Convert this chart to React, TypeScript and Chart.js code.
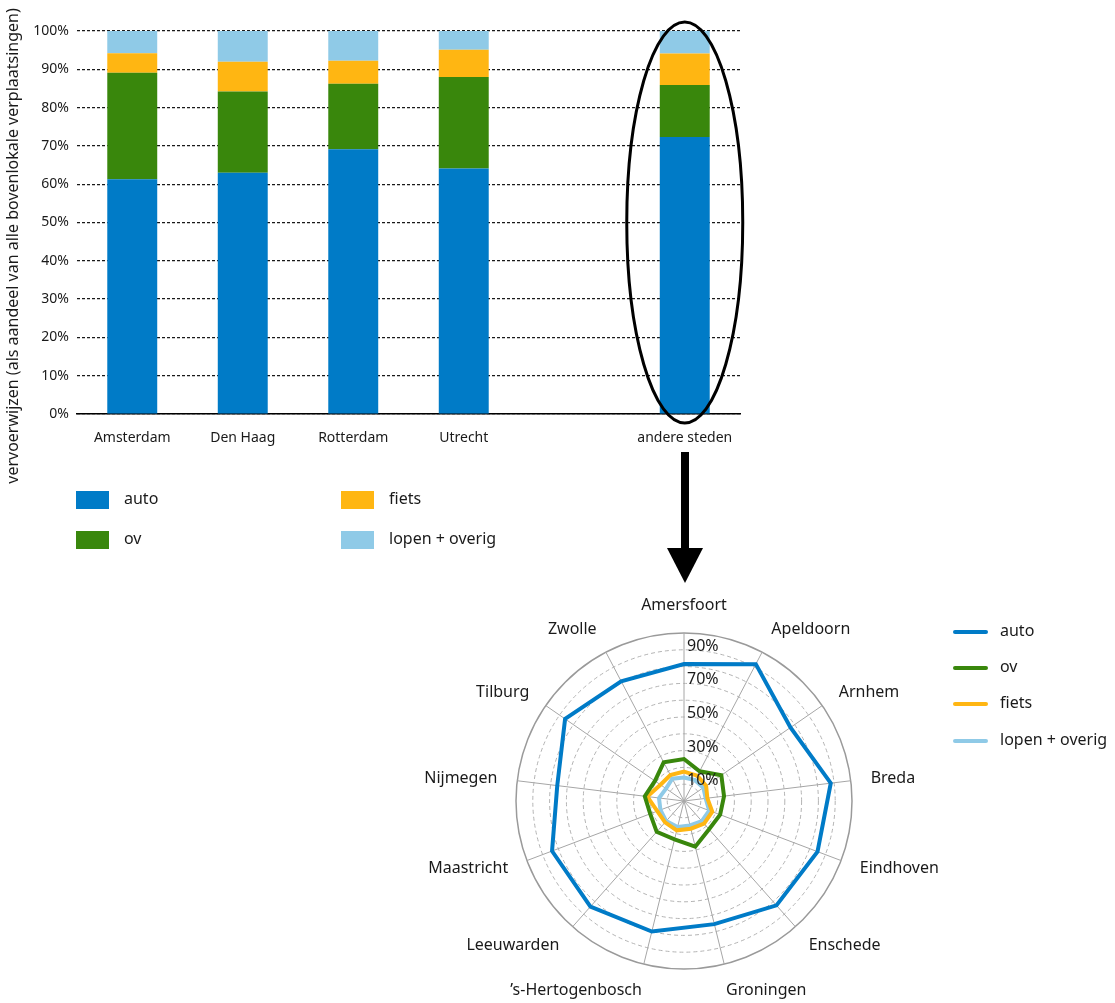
import React, { useEffect, useRef } from 'react';
import { Chart, registerables } from 'chart.js';

Chart.register(...registerables);

const FONT = "'Noto Sans', 'DejaVu Sans', sans-serif";
const TEXT = '#1a1a1a';

// ---- bar chart data ----
const barCategories = ['Amsterdam', 'Den Haag', 'Rotterdam', 'Utrecht', '', 'andere steden'];
const barAuto = [61.3, 63.0, 69.1, 64.1, null, 72.3];
const barOv = [27.8, 21.2, 17.1, 23.9, null, 13.6];
const barFiets = [5.1, 7.8, 6.0, 7.1, null, 8.2];
const barLopen = [5.8, 8.0, 7.8, 4.9, null, 5.9];
const barYTitle = 'vervoerwijzen (als aandeel van alle bovenlokale verplaatsingen)';
const highlightIndex = 5;

// ---- series ----
const seriesNames = ['auto', 'ov', 'fiets', 'lopen + overig'];
const seriesColors = ['#007BC7', '#39870C', '#FFB612', '#8FCAE7'];

// ---- radar data ----
const radarCities = [
  'Amersfoort', 'Apeldoorn', 'Arnhem', 'Breda', 'Eindhoven', 'Enschede', 'Groningen',
  '\u2019s-Hertogenbosch', 'Leeuwarden', 'Maastricht', 'Nijmegen', 'Tilburg', 'Zwolle',
];
const radarAuto = [81.5, 92, 77, 88, 85, 83, 75.5, 80, 84, 84, 76, 86, 80.5];
const radarOv = [25, 20, 27, 24, 23, 22.5, 28, 23.5, 24.5, 21.5, 23.5, 21, 26];
const radarFiets = [17.5, 17, 16, 14, 18, 18, 17, 18, 17, 17, 22, 17, 17.5];
const radarLopen = [14, 14, 14, 13, 16, 16, 15, 16, 16, 15, 15, 13, 15];
const radarTickValues = [10, 30, 50, 70, 90];
const radarTickLabels = ['10%', '30%', '50%', '70%', '90%'];

const barExtras = {
  id: 'barExtras',
  afterDraw(chart: any) {
    const ctx = chart.ctx;
    const xs = chart.scales.x;
    const ys = chart.scales.y;
    // y axis title
    ctx.save();
    ctx.translate(13, 246);
    ctx.rotate(-Math.PI / 2);
    ctx.font = `16px ${FONT}`;
    ctx.fillStyle = TEXT;
    ctx.textAlign = 'center';
    ctx.textBaseline = 'middle';
    ctx.fillText(barYTitle, 0, 0);
    ctx.restore();
    // ellipse around highlighted bar
    const cx = xs.getPixelForValue(highlightIndex);
    const yTop = ys.getPixelForValue(100);
    const yBot = ys.getPixelForValue(0);
    const cy = (yTop + yBot) / 2;
    const ry = (yBot - yTop) / 2 + 9;
    ctx.save();
    ctx.beginPath();
    ctx.ellipse(cx, cy, 58, ry, 0, 0, Math.PI * 2);
    ctx.lineWidth = 3;
    ctx.strokeStyle = '#000';
    ctx.stroke();
    ctx.restore();
  },
};

const radarExtras = {
  id: 'radarExtras',
  afterDraw(chart: any) {
    const ctx = chart.ctx;
    const s = chart.scales.r;
    ctx.save();
    ctx.fillStyle = TEXT;
    // tick labels
    ctx.font = `16px ${FONT}`;
    ctx.textAlign = 'left';
    ctx.textBaseline = 'alphabetic';
    radarTickValues.forEach((v, i) => {
      const d = s.getDistanceFromCenterForValue(v);
      ctx.fillText(radarTickLabels[i], s.xCenter + 3, s.yCenter - d + 1);
    });
    // point labels
    ctx.textBaseline = 'middle';
    const labels = chart.data.labels as string[];
    labels.forEach((lab, i) => {
      const ang = s.getIndexAngle(i);
      const deg = Math.round((ang * 180) / Math.PI) % 360;
      const c = Math.cos(ang);
      const sn = Math.abs(Math.sin(ang));
      const extraX = sn < 0.3 ? -12 : 0;
      const px = s.getPointPosition(i, s.drawingArea + 20 + extraX).x;
      const py = s.getPointPosition(i, s.drawingArea + 20 + 8 * c * c).y;
      ctx.textAlign = deg === 0 || deg === 180 ? 'center' : deg < 180 ? 'left' : 'right';
      ctx.fillText(lab, px, py);
    });
    ctx.restore();
  },
};

function BarChart() {
  const ref = useRef<HTMLCanvasElement>(null);
  useEffect(() => {
    const values = [barAuto, barOv, barFiets, barLopen];
    const chart = new Chart(ref.current!, {
      type: 'bar',
      data: {
        labels: barCategories,
        datasets: values.map((d, i) => ({
          label: seriesNames[i],
          data: d,
          backgroundColor: seriesColors[i],
          borderWidth: 0,
          categoryPercentage: 1,
          barPercentage: 0.452,
        })),
      },
      options: {
        responsive: false,
        animation: false,
        layout: { padding: { left: 0, right: 10, top: 31, bottom: 0 } },
        plugins: { legend: { display: false }, tooltip: { enabled: false } },
        scales: {
          x: {
            stacked: true,
            grid: { display: false },
            border: { display: true, color: '#000', width: 1.5 },
            ticks: { color: TEXT, font: { family: FONT, size: 14 }, padding: 8, maxRotation: 0, autoSkip: false },
            afterFit: (sc: any) => { sc.height = 86; },
          },
          y: {
            stacked: true,
            min: 0,
            max: 100,
            ticks: { stepSize: 10, callback: (v: any) => v + '%', color: TEXT, font: { family: FONT, size: 14 }, padding: 8 },
            grid: { color: '#1a1a1a', lineWidth: 1.2, drawTicks: false },
            border: { display: false, dash: [3, 2] },
            afterFit: (sc: any) => { sc.width = 77; },
          },
        },
      } as any,
      plugins: [barExtras],
    });
    return () => chart.destroy();
  }, []);
  return <canvas ref={ref} width={750} height={500} style={{ position: 'absolute', left: 0, top: 0 }} />;
}

function RadarChart() {
  const ref = useRef<HTMLCanvasElement>(null);
  useEffect(() => {
    const values = [radarAuto, radarOv, radarFiets, radarLopen];
    const chart = new Chart(ref.current!, {
      type: 'radar',
      data: {
        labels: radarCities,
        datasets: values.map((d, i) => ({
          label: seriesNames[i],
          data: d,
          borderColor: seriesColors[i],
          backgroundColor: seriesColors[i],
          borderWidth: 4,
          fill: false,
          pointRadius: 0,
          tension: 0,
        })),
      },
      options: {
        responsive: false,
        animation: false,
        layout: { padding: { left: 96, right: 128, top: 48, bottom: 34 } },
        plugins: { legend: { display: false }, tooltip: { enabled: false } },
        scales: {
          r: {
            min: 0,
            max: 100,
            ticks: { display: false, stepSize: 10 },
            pointLabels: { display: false },
            angleLines: { display: true, color: '#a6a6a6', lineWidth: 1 },
            grid: {
              circular: true,
              color: (c: any) => (c.index === 10 ? '#9a9a9a' : '#b3b3b3'),
              lineWidth: (c: any) => (c.index === 10 ? 1.5 : 1),
            },
            border: { dash: (c: any) => (c.index === 10 ? [] : [4, 3]) },
          },
        },
      } as any,
      plugins: [radarExtras],
    });
    return () => chart.destroy();
  }, []);
  return <canvas ref={ref} width={560} height={418} style={{ position: 'absolute', left: 420, top: 585 }} />;
}

const textStyle: React.CSSProperties = {
  position: 'absolute',
  fontFamily: FONT,
  fontSize: 16,
  lineHeight: '20px',
  color: TEXT,
  whiteSpace: 'nowrap',
};

function BarLegend() {
  const items = [
    { i: 0, x: 76, y: 500 },
    { i: 1, x: 76, y: 540 },
    { i: 2, x: 341, y: 500 },
    { i: 3, x: 341, y: 540 },
  ];
  return (
    <>
      {items.map(({ i, x, y }) => (
        <React.Fragment key={i}>
          <div style={{ position: 'absolute', left: x, top: y - 9, width: 33, height: 18, background: seriesColors[i] }} />
          <div style={{ ...textStyle, left: x + 48, top: y - 12 }}>{seriesNames[i]}</div>
        </React.Fragment>
      ))}
    </>
  );
}

function RadarLegend() {
  const rows = [631.7, 668.3, 704.3, 740.7];
  return (
    <>
      {rows.map((y, i) => (
        <React.Fragment key={i}>
          <div style={{ position: 'absolute', left: 953, top: y - 2, width: 35, height: 4, borderRadius: 2, background: seriesColors[i] }} />
          <div style={{ ...textStyle, left: 1000, top: y - 12 }}>{seriesNames[i]}</div>
        </React.Fragment>
      ))}
    </>
  );
}

function Arrow() {
  return (
    <svg width={60} height={145} style={{ position: 'absolute', left: 655, top: 445 }}>
      <line x1={30} y1={7} x2={30} y2={106} stroke="#000" strokeWidth={8} />
      <polygon points="12,103 48,103 30,138" fill="#000" />
    </svg>
  );
}

export default function App() {
  return (
    <div style={{ position: 'absolute', left: 0, top: 0, width: 1115, height: 1003, background: '#fff', overflow: 'hidden' }}>
      <BarChart />
      <BarLegend />
      <Arrow />
      <RadarChart />
      <RadarLegend />
    </div>
  );
}
